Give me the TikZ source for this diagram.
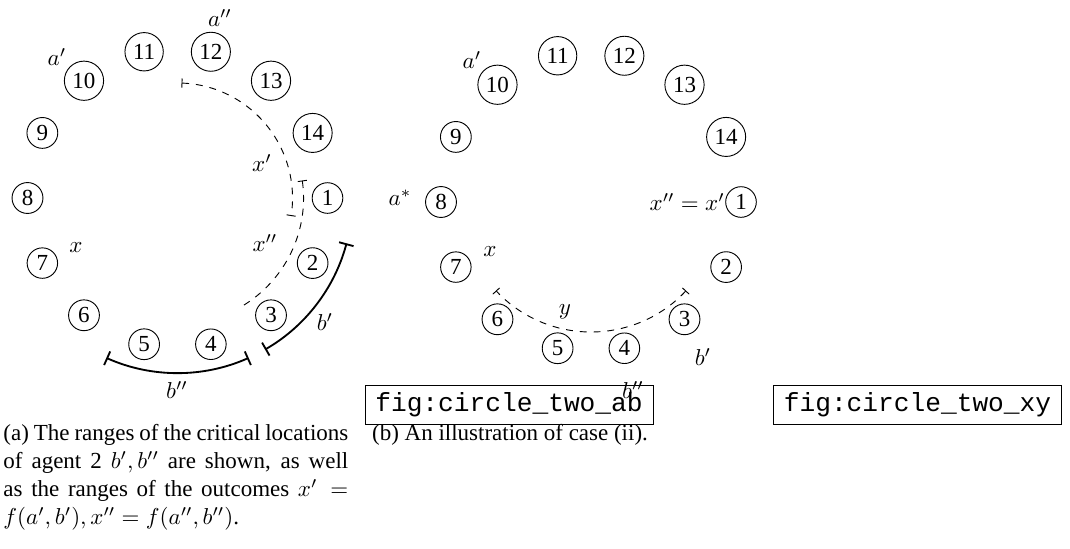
\documentclass[tikz,border=0pt]{standalone}
\usepackage{amsmath}
\usepackage{fontspec}
\setmainfont{Liberation Serif}
\setmonofont{Liberation Mono}
\usetikzlibrary{arrows.meta}

\tikzset{
  num/.style={circle, draw, thin, inner sep=1.8pt, font=\fontsize{10}{12}\selectfont},
  lbl/.style={inner sep=0pt},
  rng/.style={dashed, thin, {Bar[width=4pt]}-{Bar[width=4pt]}},
  rngopen/.style={dashed, thin, {Bar[width=4pt]}-},
  crit/.style={thick, {Bar[width=6.5pt]}-{Bar[width=6.5pt]}},
  figbox/.style={draw, thin, minimum width=125.3pt, minimum height=17pt, inner sep=0pt, font=\fontsize{11.4}{13}\ttfamily},
  capt/.style={inner sep=0pt, font=\fontsize{10}{12.2}\selectfont}
}

\begin{document}
\begin{tikzpicture}[x=0.435pt, y=0.435pt, >=stealth, thin]
    \useasboundingbox (0,0) rectangle (1070,-548);

    % Circle of locations (a)
    \begin{scope}[shift={(177.5,-198)}]
        \foreach \k in {1,...,14}
            \node[num] (l\k) at ({(1-\k)*360/14}:150) {\k};
        % Outcome ranges
        \draw[rng] (88:115) arc[start angle=88, end angle=-9, radius=115];
        \draw[rngopen] (8:126) arc[start angle=8, end angle=-60, radius=126];
        % Critical locations of agent 2
        \draw[crit] (-15:175) arc[start angle=-15, end angle=-60, radius=175];
        \draw[crit] (-66:175) arc[start angle=-66, end angle=-114, radius=175];
    \end{scope}
    \node[lbl] (la2) at (220,-18) {$a''$};
    \node[lbl] (la1) at (57,-57) {$a'$};
    \node[lbl] (lx1) at (262,-163) {$x'$};
    \node[lbl] (lx2) at (265,-243) {$x''$};
    \node[lbl] (lx) at (76,-248) {$x$};
    \node[lbl] (lb1) at (325,-322) {$b'$};
    \node[lbl] (lb2) at (177,-390) {$b''$};

    % Circle of locations (b)
    \begin{scope}[shift={(591,-202)}]
        \foreach \k in {1,...,14}
            \node[num] (r\k) at ({(1-\k)*360/14}:150) {\k};
        % Range of y
        \draw[rng] (-43:130) arc[start angle=-43, end angle=-137, radius=130];
    \end{scope}
    \node[lbl] (ra1) at (472,-60) {$a'$};
    \node[lbl] (rast) at (400,-198) {$a^*$};
    \node[lbl, anchor=east] (rx) at (r1.west) {$x''=x'$};
    \node[lbl] (rxx) at (490,-252) {$x$};
    \node[lbl] (ry) at (565,-312) {$y$};
    \node[lbl] (rb1) at (703,-357) {$b'$};

    % Missing figure boxes
    \node[figbox] (boxab) at (509,-404.5) {fig:circle\_two\_ab};
    \node[figbox] (boxxy) at (917.5,-404.5) {fig:circle\_two\_xy};
    \node[lbl] (rb2) at (633,-390) {$b''$};

    % Captions
    \node[capt, anchor=north west, text width=150pt, align=justify] (capa) at (3,-424)
        {(a) The ranges of the critical locations\linebreak
         of agent 2 $b', b''$ are shown, as well\linebreak
         as the ranges of the outcomes $x' =$\linebreak
         $f(a',b'), x''=f(a'',b'')$.};
    \node[capt, anchor=north] (capb) at (510,-424) {(b) An illustration of case (ii).};
\end{tikzpicture}
\end{document}
